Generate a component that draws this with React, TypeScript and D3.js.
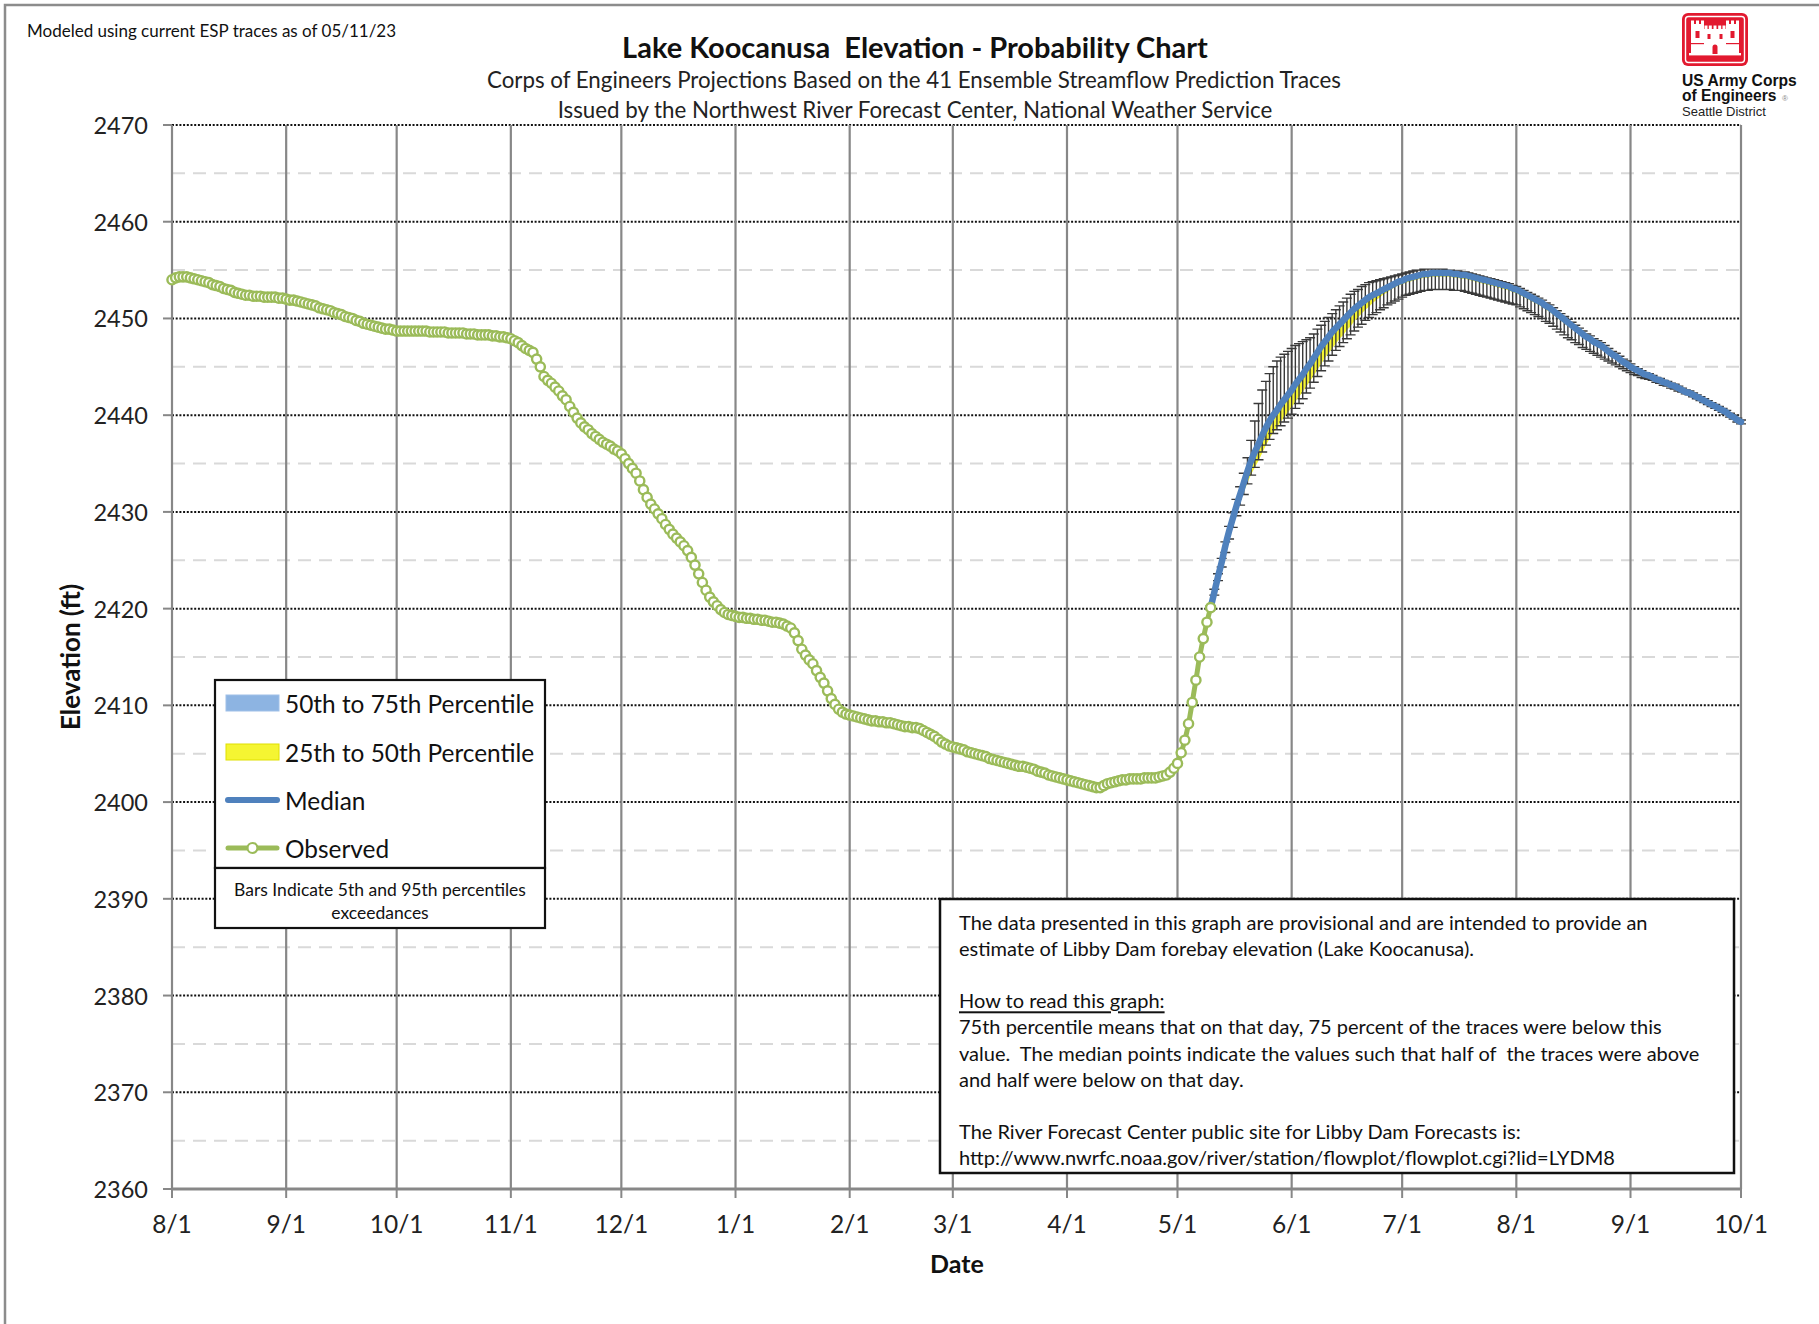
import React from "react";
import * as d3 from "d3";

// ---- data -------------------------------------------------------------
const OBS_START = "2022-08-01";
const PROJ_START = "2023-05-10";
const AXIS_START = "2022-08-01";
const AXIS_END = "2023-10-01";

const yTickValues = [2360, 2370, 2380, 2390, 2400, 2410, 2420, 2430, 2440, 2450, 2460, 2470];
const yMinorValues = [2365, 2375, 2385, 2395, 2405, 2415, 2425, 2435, 2445, 2455, 2465];

// Daily observed forebay elevation (ft), starting 8/1/22
const observed = [
  2454.0, 2454.2, 2454.3, 2454.3, 2454.3, 2454.2, 2454.1, 2454.0, 2453.9, 2453.8,
  2453.7, 2453.5, 2453.4, 2453.3, 2453.1, 2453.0, 2452.9, 2452.7, 2452.6, 2452.5,
  2452.4, 2452.4, 2452.3, 2452.3, 2452.3, 2452.2, 2452.2, 2452.2, 2452.2, 2452.1,
  2452.1, 2452.0, 2451.9, 2451.9, 2451.8, 2451.7, 2451.6, 2451.5, 2451.4, 2451.3,
  2451.1, 2451.0, 2450.9, 2450.8, 2450.6, 2450.5, 2450.4, 2450.2, 2450.1, 2450.0,
  2449.8, 2449.7, 2449.5, 2449.4, 2449.3, 2449.2, 2449.1, 2449.0, 2448.9, 2448.9,
  2448.8, 2448.7, 2448.7, 2448.7, 2448.7, 2448.7, 2448.7, 2448.7, 2448.7, 2448.7,
  2448.6, 2448.6, 2448.6, 2448.6, 2448.6, 2448.5, 2448.5, 2448.5, 2448.5, 2448.5,
  2448.4, 2448.4, 2448.4, 2448.3, 2448.3, 2448.3, 2448.3, 2448.2, 2448.2, 2448.1,
  2448.1, 2448.0, 2447.9, 2447.7, 2447.5, 2447.2, 2446.9, 2446.7, 2446.5, 2445.8,
  2445.0, 2444.0, 2443.6, 2443.3, 2442.9, 2442.5, 2442.0, 2441.6, 2440.9, 2440.3,
  2439.7, 2439.2, 2438.8, 2438.5, 2438.1, 2437.8, 2437.5, 2437.2, 2437.0, 2436.8,
  2436.5, 2436.3, 2436.0, 2435.5, 2435.0, 2434.5, 2434.0, 2433.2, 2432.3, 2431.5,
  2430.8, 2430.3, 2429.8, 2429.3, 2428.7, 2428.2, 2427.7, 2427.3, 2426.9, 2426.5,
  2426.0, 2425.3, 2424.5, 2423.6, 2422.7, 2421.9, 2421.2, 2420.7, 2420.3, 2419.9,
  2419.6, 2419.4, 2419.3, 2419.2, 2419.1, 2419.1, 2419.0, 2419.0, 2418.9, 2418.9,
  2418.8, 2418.8, 2418.7, 2418.6, 2418.6, 2418.5, 2418.4, 2418.2, 2418.0, 2417.5,
  2416.7, 2415.8, 2415.2, 2414.7, 2414.3, 2413.6, 2412.9, 2412.3, 2411.5, 2410.7,
  2410.1, 2409.6, 2409.3, 2409.1, 2409.0, 2408.9, 2408.8, 2408.7, 2408.6, 2408.5,
  2408.4, 2408.4, 2408.3, 2408.3, 2408.2, 2408.2, 2408.1, 2408.0, 2407.9, 2407.8,
  2407.8, 2407.7, 2407.7, 2407.6, 2407.4, 2407.2, 2407.0, 2406.8, 2406.5, 2406.2,
  2406.0, 2405.8, 2405.7, 2405.6, 2405.5, 2405.4, 2405.2, 2405.1, 2405.0, 2404.9,
  2404.8, 2404.7, 2404.5, 2404.4, 2404.3, 2404.2, 2404.1, 2404.0, 2403.9, 2403.8,
  2403.7, 2403.7, 2403.6, 2403.5, 2403.4, 2403.2, 2403.1, 2403.0, 2402.8, 2402.7,
  2402.6, 2402.5, 2402.4, 2402.3, 2402.2, 2402.1, 2402.0, 2401.9, 2401.8, 2401.7,
  2401.6, 2401.5, 2401.5, 2401.7, 2401.9, 2402.0, 2402.1, 2402.2, 2402.3, 2402.3,
  2402.4, 2402.4, 2402.4, 2402.4, 2402.5, 2402.5, 2402.5, 2402.5, 2402.6, 2402.7,
  2402.8, 2403.1, 2403.5, 2404.0, 2405.1, 2406.4, 2408.1, 2410.3, 2412.6, 2415.0,
  2416.9, 2418.6, 2420.1,
];

// Daily ESP projection percentiles (ft), starting 5/10/23
const median = [
  2420.1, 2421.7, 2423.3, 2424.8, 2426.5, 2428.0, 2429.3, 2430.6, 2431.8, 2433.0,
  2434.2, 2435.3, 2436.2, 2437.0, 2437.9, 2438.7, 2439.4, 2440.0, 2440.5, 2441.1,
  2441.6, 2442.1, 2442.6, 2443.2, 2443.7, 2444.2, 2444.8, 2445.3, 2445.9, 2446.5,
  2447.1, 2447.6, 2448.1, 2448.6, 2449.0, 2449.4, 2449.8, 2450.2, 2450.6, 2451.0,
  2451.3, 2451.6, 2451.9, 2452.2, 2452.4, 2452.6, 2452.8, 2453.0, 2453.2, 2453.4,
  2453.6, 2453.8, 2453.9, 2454.1, 2454.2, 2454.3, 2454.4, 2454.5, 2454.6, 2454.6,
  2454.7, 2454.7, 2454.7, 2454.7, 2454.7, 2454.7, 2454.6, 2454.6, 2454.5, 2454.5,
  2454.4, 2454.3, 2454.2, 2454.1, 2454.0, 2453.9, 2453.8, 2453.7, 2453.6, 2453.5,
  2453.4, 2453.3, 2453.1, 2453.0, 2452.8, 2452.6, 2452.4, 2452.2, 2452.0, 2451.8,
  2451.6, 2451.3, 2451.1, 2450.8, 2450.5, 2450.2, 2449.9, 2449.6, 2449.3, 2449.0,
  2448.7, 2448.4, 2448.1, 2447.9, 2447.6, 2447.4, 2447.2, 2446.9, 2446.6, 2446.3,
  2446.1, 2445.8, 2445.5, 2445.3, 2445.0, 2444.8, 2444.6, 2444.4, 2444.2, 2444.1,
  2443.9, 2443.7, 2443.6, 2443.4, 2443.3, 2443.1, 2443.0, 2442.8, 2442.6, 2442.4,
  2442.3, 2442.1, 2441.9, 2441.7, 2441.5, 2441.3, 2441.1, 2440.9, 2440.7, 2440.5,
  2440.3, 2440.0, 2439.8, 2439.5, 2439.3,
];

const p95 = [
  2420.3, 2422.0, 2423.6, 2425.2, 2426.9, 2428.5, 2429.9, 2431.3, 2432.6, 2434.0,
  2435.6, 2437.4, 2439.4, 2441.2, 2442.6, 2443.5, 2444.3, 2445.0, 2445.6, 2446.0,
  2446.3, 2446.6, 2446.9, 2447.2, 2447.4, 2447.6, 2447.8, 2448.0, 2448.4, 2448.9,
  2449.3, 2449.7, 2450.1, 2450.5, 2450.9, 2451.3, 2451.7, 2452.1, 2452.5, 2452.8,
  2453.0, 2453.3, 2453.5, 2453.7, 2453.8, 2453.9, 2454.0, 2454.1, 2454.2, 2454.3,
  2454.4, 2454.5, 2454.6, 2454.7, 2454.8, 2454.9, 2455.0, 2455.0, 2455.1, 2455.1,
  2455.1, 2455.1, 2455.1, 2455.1, 2455.0, 2455.0, 2454.9, 2454.9, 2454.8, 2454.8,
  2454.7, 2454.6, 2454.5, 2454.4, 2454.3, 2454.2, 2454.1, 2454.0, 2453.9, 2453.8,
  2453.7, 2453.6, 2453.4, 2453.3, 2453.1, 2452.9, 2452.7, 2452.5, 2452.3, 2452.1,
  2451.9, 2451.6, 2451.4, 2451.1, 2450.8, 2450.5, 2450.2, 2449.9, 2449.6, 2449.3,
  2449.0, 2448.7, 2448.4, 2448.2, 2447.9, 2447.7, 2447.5, 2447.2, 2446.9, 2446.6,
  2446.4, 2446.1, 2445.8, 2445.6, 2445.3, 2445.0, 2444.8, 2444.6, 2444.4, 2444.3,
  2444.1, 2443.9, 2443.8, 2443.6, 2443.5, 2443.3, 2443.2, 2443.0, 2442.8, 2442.6,
  2442.5, 2442.3, 2442.1, 2441.9, 2441.7, 2441.5, 2441.3, 2441.1, 2440.9, 2440.7,
  2440.5, 2440.2, 2440.0, 2439.7, 2439.5,
];

const p75 = [
  2420.1, 2421.8, 2423.4, 2425.0, 2426.7, 2428.2, 2429.6, 2430.9, 2432.2, 2433.4,
  2434.6, 2435.8, 2436.7, 2437.6, 2438.5, 2439.3, 2440.0, 2440.6, 2441.1, 2441.6,
  2442.1, 2442.6, 2443.1, 2443.7, 2444.2, 2444.7, 2445.3, 2445.8, 2446.4, 2447.0,
  2447.6, 2448.1, 2448.6, 2449.1, 2449.5, 2449.9, 2450.3, 2450.7, 2451.0, 2451.4,
  2451.7, 2452.0, 2452.3, 2452.5, 2452.7, 2452.9, 2453.1, 2453.3, 2453.5, 2453.6,
  2453.8, 2454.0, 2454.1, 2454.3, 2454.4, 2454.5, 2454.6, 2454.7, 2454.8, 2454.8,
  2454.9, 2454.9, 2454.9, 2454.9, 2454.9, 2454.8, 2454.8, 2454.7, 2454.7, 2454.6,
  2454.5, 2454.4, 2454.3, 2454.2, 2454.1, 2454.0, 2453.9, 2453.8, 2453.7, 2453.6,
  2453.5, 2453.4, 2453.2, 2453.1, 2452.9, 2452.7, 2452.5, 2452.3, 2452.1, 2451.9,
  2451.7, 2451.4, 2451.2, 2450.9, 2450.6, 2450.3, 2450.0, 2449.7, 2449.4, 2449.1,
  2448.8, 2448.5, 2448.2, 2448.0, 2447.7, 2447.5, 2447.3, 2447.0, 2446.7, 2446.4,
  2446.2, 2445.9, 2445.6, 2445.4, 2445.1, 2444.9, 2444.7, 2444.5, 2444.3, 2444.2,
  2444.0, 2443.8, 2443.7, 2443.5, 2443.4, 2443.2, 2443.1, 2442.9, 2442.7, 2442.5,
  2442.4, 2442.2, 2442.0, 2441.8, 2441.6, 2441.4, 2441.2, 2441.0, 2440.8, 2440.6,
  2440.4, 2440.1, 2439.9, 2439.6, 2439.4,
];

const p25 = [
  2420.1, 2421.6, 2423.1, 2424.5, 2426.1, 2427.5, 2428.7, 2429.9, 2431.0, 2432.1,
  2433.0, 2433.9, 2434.6, 2435.3, 2436.1, 2436.9, 2437.6, 2438.2, 2438.7, 2439.3,
  2439.8, 2440.3, 2440.8, 2441.4, 2441.9, 2442.4, 2443.0, 2443.5, 2444.1, 2444.7,
  2445.3, 2445.9, 2446.4, 2446.9, 2447.4, 2447.9, 2448.3, 2448.8, 2449.2, 2449.7,
  2450.1, 2450.5, 2450.9, 2451.2, 2451.6, 2451.9, 2452.2, 2452.5, 2452.7, 2453.0,
  2453.2, 2453.4, 2453.5, 2453.7, 2453.8, 2453.9, 2454.0, 2454.1, 2454.2, 2454.2,
  2454.3, 2454.3, 2454.3, 2454.3, 2454.3, 2454.3, 2454.2, 2454.2, 2454.1, 2454.1,
  2454.0, 2453.9, 2453.8, 2453.7, 2453.6, 2453.5, 2453.4, 2453.3, 2453.2, 2453.1,
  2453.0, 2452.9, 2452.7, 2452.6, 2452.4, 2452.2, 2452.0, 2451.8, 2451.6, 2451.4,
  2451.2, 2450.9, 2450.7, 2450.4, 2450.1, 2449.8, 2449.5, 2449.2, 2449.0, 2448.7,
  2448.4, 2448.1, 2447.8, 2447.6, 2447.4, 2447.2, 2447.0, 2446.7, 2446.4, 2446.1,
  2445.9, 2445.6, 2445.3, 2445.1, 2444.8, 2444.6, 2444.4, 2444.2, 2444.0, 2443.9,
  2443.7, 2443.5, 2443.4, 2443.2, 2443.1, 2442.9, 2442.8, 2442.6, 2442.4, 2442.2,
  2442.1, 2441.9, 2441.7, 2441.5, 2441.3, 2441.1, 2440.9, 2440.7, 2440.5, 2440.3,
  2440.1, 2439.8, 2439.6, 2439.3, 2439.1,
];

const p5 = [
  2419.9, 2421.4, 2422.9, 2424.3, 2425.8, 2427.2, 2428.4, 2429.6, 2430.7, 2431.8,
  2432.9, 2433.8, 2434.6, 2435.4, 2436.2, 2436.9, 2437.5, 2438.1, 2438.5, 2438.9,
  2439.3, 2439.7, 2440.1, 2440.7, 2441.2, 2441.7, 2442.3, 2442.8, 2443.4, 2444.0,
  2444.6, 2445.1, 2445.6, 2446.2, 2446.7, 2447.1, 2447.5, 2447.9, 2448.3, 2448.7,
  2449.1, 2449.4, 2449.8, 2450.1, 2450.4, 2450.6, 2450.9, 2451.1, 2451.4, 2451.6,
  2451.8, 2452.0, 2452.2, 2452.4, 2452.5, 2452.6, 2452.7, 2452.8, 2452.9, 2452.9,
  2453.0, 2453.0, 2453.0, 2453.0, 2453.0, 2453.0, 2452.9, 2452.9, 2452.9, 2452.8,
  2452.7, 2452.6, 2452.5, 2452.4, 2452.3, 2452.2, 2452.1, 2452.0, 2451.9, 2451.8,
  2451.7, 2451.6, 2451.5, 2451.4, 2451.2, 2451.0, 2450.8, 2450.6, 2450.4, 2450.2,
  2450.0, 2449.7, 2449.5, 2449.2, 2448.9, 2448.6, 2448.3, 2448.0, 2447.8, 2447.5,
  2447.3, 2447.0, 2446.8, 2446.6, 2446.4, 2446.2, 2446.0, 2445.8, 2445.6, 2445.4,
  2445.2, 2445.0, 2444.8, 2444.6, 2444.4, 2444.2, 2444.1, 2443.9, 2443.8, 2443.7,
  2443.6, 2443.4, 2443.3, 2443.1, 2443.0, 2442.8, 2442.7, 2442.5, 2442.4, 2442.2,
  2442.1, 2441.9, 2441.7, 2441.5, 2441.3, 2441.1, 2440.9, 2440.7, 2440.5, 2440.3,
  2440.1, 2439.8, 2439.6, 2439.3, 2439.1,
];

const legendLabels = ["50th to 75th Percentile", "25th to 50th Percentile", "Median", "Observed"];
const barsNote = ["Bars Indicate 5th and 95th percentiles", "exceedances"];
const noteLines = [
  "The data presented in this graph are provisional and are intended to provide an",
  "estimate of Libby Dam forebay elevation (Lake Koocanusa).",
  "",
  "How to read this graph:",
  "75th percentile means that on that day, 75 percent of the traces were below this",
  "value.  The median points indicate the values such that half of  the traces were above",
  "and half were below on that day.",
  "",
  "The River Forecast Center public site for Libby Dam Forecasts is:",
  "http://www.nwrfc.noaa.gov/river/station/flowplot/flowplot.cgi?lid=LYDM8",
];

// ---- styling ----------------------------------------------------------
const FONT = "Lato, 'Open Sans', 'DejaVu Sans', sans-serif";
const LOGO_FONT = "'Liberation Sans', Arial, Helvetica, sans-serif";
const C = {
  grid: "#878787",
  minor: "#d9d9d9",
  blue: "#8DB4E2",
  yellow: "#F5F532",
  median: "#4F81BD",
  green: "#9BBB59",
  bars: "#3a3a3a",
  red: "#E2192F",
};

const W = 1819;
const H = 1324;
const PLOT = { left: 172, right: 1741, top: 125, bottom: 1189 };

type ObsPt = { t: Date; v: number };
type ProjPt = { t: Date; m: number; lo: number; q1: number; q3: number; hi: number };

function Logo() {
  return (
    <g>
      <g transform="translate(1682,13)">
        <rect width={66} height={53} rx={6} fill={C.red} />
        <rect x={3.5} y={3.5} width={59} height={46} rx={3} fill="none" stroke="#fff" strokeWidth={1.4} />
        {/* castle */}
        <g fill="#fff">
          <rect x={9} y={11} width={13} height={30} />
          <rect x={44} y={11} width={13} height={30} />
          <rect x={22} y={16} width={22} height={25} />
          {[9, 14, 19, 44, 49, 54].map((mx) => (
            <rect key={mx} x={mx} y={7.5} width={3} height={4.5} />
          ))}
          {[22.5, 26.8, 31.5, 36.2, 40.5].map((mx) => (
            <rect key={mx} x={mx} y={12.5} width={3} height={4} />
          ))}
          <rect x={7} y={40} width={52} height={2.4} />
        </g>
        <g fill={C.red}>
          <path d="M30.5,41 V34 A2.5,2.5 0 0 1 35.5,34 V41 Z" />
          <rect x={13.5} y={18} width={4} height={7} />
          <rect x={48.5} y={18} width={4} height={7} />
          <rect x={25.5} y={21} width={3} height={5} />
          <rect x={37.5} y={21} width={3} height={5} />
          <rect x={9} y={30} width={13} height={1.2} />
          <rect x={44} y={30} width={13} height={1.2} />
        </g>
      </g>
      <text x={1682} y={86} fontFamily={LOGO_FONT} fontWeight="bold" fontSize={15.6} fill="#111">
        US Army Corps
      </text>
      <text x={1682} y={101} fontFamily={LOGO_FONT} fontWeight="bold" fontSize={15.6} fill="#111">
        of Engineers
      </text>
      <text x={1782} y={101} fontFamily={LOGO_FONT} fontSize={8} fill="#888">
        ®
      </text>
      <text x={1682} y={116} fontFamily={LOGO_FONT} fontSize={13} fill="#222">
        Seattle District
      </text>
    </g>
  );
}

export default function App() {
  const x = d3
    .scaleUtc()
    .domain([new Date(AXIS_START), new Date(AXIS_END)])
    .range([PLOT.left, PLOT.right]);
  const y = d3.scaleLinear().domain([2360, 2470]).range([PLOT.bottom, PLOT.top]);

  const obsStart = new Date(OBS_START);
  const projStart = new Date(PROJ_START);

  const obs: ObsPt[] = observed.map((v, i) => ({ t: d3.utcDay.offset(obsStart, i), v }));
  const proj: ProjPt[] = median.map((m, i) => ({
    t: d3.utcDay.offset(projStart, i),
    m,
    lo: p5[i],
    q1: p25[i],
    q3: p75[i],
    hi: p95[i],
  }));

  const months = d3.utcMonth.range(new Date(AXIS_START), d3.utcDay.offset(new Date(AXIS_END), 1));
  const fmt = d3.utcFormat("%-m/%-d");

  const obsLine = d3
    .line<ObsPt>()
    .x((d) => x(d.t))
    .y((d) => y(d.v))
    .curve(d3.curveMonotoneX);
  const medLine = d3
    .line<ProjPt>()
    .x((d) => x(d.t))
    .y((d) => y(d.m))
    .curve(d3.curveMonotoneX);
  const upperBand = d3
    .area<ProjPt>()
    .x((d) => x(d.t))
    .y0((d) => y(d.m))
    .y1((d) => y(d.q3));
  const lowerBand = d3
    .area<ProjPt>()
    .x((d) => x(d.t))
    .y0((d) => y(d.q1))
    .y1((d) => y(d.m));

  const cap = 5;
  const barsPath = proj
    .map((d) => {
      const cx = x(d.t);
      const yt = y(d.hi);
      const yb = y(d.lo);
      return `M${cx - cap},${yt}H${cx + cap}M${cx},${yt}V${yb}M${cx - cap},${yb}H${cx + cap}`;
    })
    .join("");

  const legendRows = [703, 752, 800, 848];

  return (
    <div style={{ position: "absolute", left: 0, top: 0, width: W, height: H, background: "#fff" }}>
      <svg width={W} height={H} viewBox={`0 0 ${W} ${H}`} style={{ display: "block" }}>
        <rect width={W} height={H} fill="#fff" />
        {/* frame */}
        <path d={`M5,${H} V5 H${W}`} fill="none" stroke="#8c8c8c" strokeWidth={2.5} />

        {/* header text */}
        <text x={27} y={30} fontFamily={FONT} fontSize={17} dominantBaseline="central" fill="#111">
          Modeled using current ESP traces as of 05/11/23
        </text>
        <text x={915} y={46} textAnchor="middle" dominantBaseline="central" fontFamily={FONT} fontWeight="bold" fontSize={29} fill="#111" style={{ whiteSpace: "pre" }}>
          {"Lake Koocanusa  Elevation - Probability Chart"}
        </text>
        <text x={914} y={79} textAnchor="middle" dominantBaseline="central" fontFamily={FONT} fontSize={22.3} fill="#222">
          Corps of Engineers Projections Based on the 41 Ensemble Streamflow Prediction Traces
        </text>
        <text x={915} y={109} textAnchor="middle" dominantBaseline="central" fontFamily={FONT} fontSize={22.3} fill="#222">
          Issued by the Northwest River Forecast Center, National Weather Service
        </text>
        <Logo />

        {/* minor horizontal gridlines */}
        {yMinorValues.map((v) => (
          <line key={`mn${v}`} x1={PLOT.left} x2={PLOT.right} y1={y(v)} y2={y(v)} stroke={C.minor} strokeWidth={2} strokeDasharray="13 8" />
        ))}
        {/* major horizontal gridlines */}
        {yTickValues
          .filter((v) => v !== 2360)
          .map((v) => (
            <line key={`mj${v}`} x1={PLOT.left} x2={PLOT.right} y1={y(v)} y2={y(v)} stroke="#111" strokeWidth={2} strokeDasharray="2 1.7" />
          ))}
        {/* vertical month gridlines */}
        {months.map((m) => (
          <line key={`v${m.getTime()}`} x1={x(m)} x2={x(m)} y1={PLOT.top} y2={PLOT.bottom} stroke={C.grid} strokeWidth={2.2} />
        ))}
        {/* axes */}
        <line x1={PLOT.left} x2={PLOT.right} y1={PLOT.bottom} y2={PLOT.bottom} stroke={C.grid} strokeWidth={3} />
        {yTickValues.map((v) => (
          <g key={`yt${v}`}>
            <line x1={PLOT.left - 9} x2={PLOT.left} y1={y(v)} y2={y(v)} stroke={C.grid} strokeWidth={2} />
            <text x={148} y={y(v)} textAnchor="end" dominantBaseline="central" fontFamily={FONT} fontSize={23.5} fill="#222">
              {v}
            </text>
          </g>
        ))}
        {months.map((m) => (
          <g key={`xt${m.getTime()}`}>
            <line x1={x(m)} x2={x(m)} y1={PLOT.bottom} y2={PLOT.bottom + 9} stroke={C.grid} strokeWidth={2} />
            <text x={x(m)} y={1223} textAnchor="middle" dominantBaseline="central" fontFamily={FONT} fontSize={24.5} fill="#222">
              {fmt(m)}
            </text>
          </g>
        ))}
        <text x={957} y={1263} textAnchor="middle" dominantBaseline="central" fontFamily={FONT} fontWeight="bold" fontSize={25} fill="#111">
          Date
        </text>
        <text transform="translate(70,657) rotate(-90)" textAnchor="middle" dominantBaseline="central" fontFamily={FONT} fontWeight="bold" fontSize={26} fill="#111">
          Elevation (ft)
        </text>

        {/* percentile bands */}
        <path d={upperBand(proj) || ""} fill={C.blue} />
        <path d={lowerBand(proj) || ""} fill={C.yellow} />
        {/* 5th-95th percentile bars */}
        <path d={barsPath} fill="none" stroke={C.bars} strokeWidth={1.4} />
        {/* median */}
        <path d={medLine(proj) || ""} fill="none" stroke={C.median} strokeWidth={6.5} strokeLinecap="round" strokeLinejoin="round" />
        {/* observed */}
        <path d={obsLine(obs) || ""} fill="none" stroke={C.green} strokeWidth={5} strokeLinejoin="round" />
        {obs.map((d, i) => (
          <circle key={`o${i}`} cx={x(d.t)} cy={y(d.v)} r={4.6} fill="#fff" stroke={C.green} strokeWidth={2.4} />
        ))}

        {/* legend */}
        <rect x={215} y={680} width={330} height={188} fill="#fff" stroke="#111" strokeWidth={2.2} />
        <rect x={215} y={868} width={330} height={60} fill="#fff" stroke="#111" strokeWidth={2.2} />
        <rect x={226} y={legendRows[0] - 8} width={53} height={16} fill={C.blue} stroke="#9fc0e8" strokeWidth={1} />
        <rect x={226} y={legendRows[1] - 8} width={53} height={16} fill={C.yellow} stroke="#e0e000" strokeWidth={1} />
        <line x1={228} x2={277} y1={legendRows[2]} y2={legendRows[2]} stroke={C.median} strokeWidth={6} strokeLinecap="round" />
        <line x1={228} x2={277} y1={legendRows[3]} y2={legendRows[3]} stroke={C.green} strokeWidth={5} strokeLinecap="round" />
        <circle cx={252.5} cy={legendRows[3]} r={5} fill="#fff" stroke={C.green} strokeWidth={2.2} />
        {legendLabels.map((s, i) => (
          <text key={s} x={285} y={legendRows[i]} dominantBaseline="central" fontFamily={FONT} fontSize={24.4} fill="#111">
            {s}
          </text>
        ))}
        {barsNote.map((s, i) => (
          <text key={s} x={380} y={889 + i * 23} textAnchor="middle" dominantBaseline="central" fontFamily={FONT} fontSize={17.5} fill="#111">
            {s}
          </text>
        ))}

        {/* disclaimer box */}
        <rect x={940} y={899} width={794} height={274} fill="#fff" stroke="#111" strokeWidth={2.5} />
        {noteLines.map((s, i) =>
          s ? (
            <text
              key={`n${i}`}
              x={959}
              y={922 + i * 26.1}
              dominantBaseline="central"
              fontFamily={FONT}
              fontSize={20}
              fill="#111"
              textDecoration={i === 3 ? "underline" : undefined}
              style={{ whiteSpace: "pre" }}
            >
              {s}
            </text>
          ) : null
        )}
      </svg>
    </div>
  );
}
